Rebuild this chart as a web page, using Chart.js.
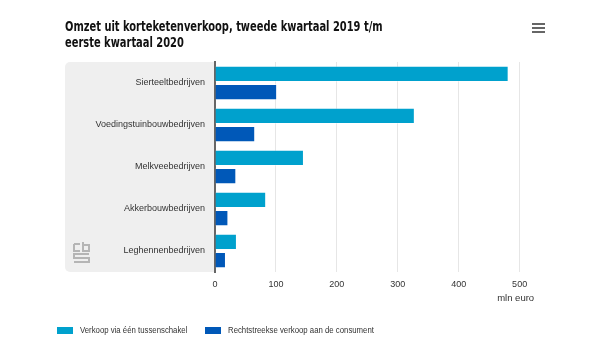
<!DOCTYPE html>
<html>
<head>
<meta charset="utf-8">
<script src="https://cdn.jsdelivr.net/npm/chart.js@4"></script>
<style>
  html, body { margin: 0; padding: 0; background: #ffffff; }
  #wrap { position: relative; width: 600px; height: 355px; overflow: hidden; }
  #chart { position: absolute; left: 0; top: 0; }
  #title { position: absolute; left: 65px; top: 18px; font-family: "DejaVu Sans Condensed", "DejaVu Sans", sans-serif; font-weight: bold; font-size: 13.5px; line-height: 16px; color: #111; white-space: nowrap; transform: scaleX(0.815); transform-origin: 0 0; }
  #menu { position: absolute; left: 532px; top: 23px; width: 13px; }
  #menu div { height: 2px; background: #666; margin-bottom: 2px; }
  .sw { position: absolute; width: 16px; height: 7px; top: 327px; }
  .lt { position: absolute; top: 324px; font-family: "Liberation Sans", sans-serif; font-size: 9.5px; line-height: 12px; color: #333; white-space: nowrap; transform: scaleX(0.82); transform-origin: 0 0; }
</style>
</head>
<body>
<div id="wrap">
  <canvas id="chart" width="600" height="355"></canvas>
  <div id="title">Omzet uit korteketenverkoop, tweede kwartaal 2019 t/m<br>eerste kwartaal 2020</div>
  <div id="menu"><div></div><div></div><div></div></div>
</div>
<script>
const categories = ["Sierteeltbedrijven", "Voedingstuinbouwbedrijven", "Melkveebedrijven", "Akkerbouwbedrijven", "Leghennenbedrijven"];
const seriesNames = ["Verkoop via één tussenschakel", "Rechtstreekse verkoop aan de consument"];
const viaTussenschakel = [482, 328, 146, 84, 36];
const rechtstreeks = [102, 66, 35, 22, 18];
const tickValues = [0, 100, 200, 300, 400, 500];
const axisTitle = "mln euro";
const colors = ["#00a1cd", "#0058b8"];

const wrap = document.getElementById('wrap');
const legendX = [57, 205];
seriesNames.forEach((n, i) => {
  const sw = document.createElement('div'); sw.className = 'sw';
  sw.style.background = colors[i]; sw.style.left = legendX[i] + 'px';
  const tx = document.createElement('div'); tx.className = 'lt';
  tx.textContent = n; tx.style.left = (legendX[i] + 23) + 'px';
  wrap.appendChild(sw); wrap.appendChild(tx);
});

const bgPlugin = {
  id: 'bgbox',
  beforeDraw(chart) {
    const ctx = chart.ctx, a = chart.chartArea;
    ctx.save();
    ctx.fillStyle = '#efefef';
    const x = 65, y = a.top, w = a.left - 65, h = a.bottom - a.top, r = 5;
    ctx.beginPath();
    ctx.moveTo(x + r, y); ctx.lineTo(x + w, y); ctx.lineTo(x + w, y + h);
    ctx.lineTo(x + r, y + h); ctx.arcTo(x, y + h, x, y + h - r, r);
    ctx.lineTo(x, y + r); ctx.arcTo(x, y, x + r, y, r); ctx.closePath();
    ctx.fill();
    // CBS logo (simplified)
    ctx.strokeStyle = '#b5b5b5'; ctx.lineWidth = 2;
    const lx = 74, ly = 242;
    ctx.beginPath();
    ctx.moveTo(lx, ly + 2); ctx.lineTo(lx, ly + 9); ctx.lineTo(lx + 6, ly + 9);
    ctx.moveTo(lx, ly + 2); ctx.lineTo(lx + 6, ly + 2);
    ctx.moveTo(lx + 9, ly); ctx.lineTo(lx + 9, ly + 9); ctx.lineTo(lx + 15, ly + 9); ctx.lineTo(lx + 15, ly + 3); ctx.lineTo(lx + 9, ly + 3);
    ctx.moveTo(lx + 15, ly + 12); ctx.lineTo(lx, ly + 12); ctx.lineTo(lx, ly + 16); ctx.lineTo(lx + 15, ly + 16); ctx.lineTo(lx + 15, ly + 20); ctx.lineTo(lx, ly + 20);
    ctx.stroke();
    ctx.restore();
  },
  afterDraw(chart) {
    const ctx = chart.ctx, xs = chart.scales.x;
    ctx.save();
    ctx.font = '9.5px "Liberation Sans", sans-serif';
    ctx.fillStyle = '#333';
    ctx.textAlign = 'center'; ctx.textBaseline = 'middle';
    ctx.fillText(axisTitle, xs.getPixelForValue(500) - 4, 298);
    ctx.restore();
  }
};

new Chart(document.getElementById('chart'), {
  type: 'bar',
  data: {
    labels: categories,
    datasets: [
      { label: seriesNames[0], data: viaTussenschakel, backgroundColor: colors[0], borderColor: 'rgba(255,255,255,0.35)', borderWidth: 1, barPercentage: 0.9, categoryPercentage: 0.86 },
      { label: seriesNames[1], data: rechtstreeks, backgroundColor: colors[1], borderColor: 'rgba(255,255,255,0.35)', borderWidth: 1, barPercentage: 0.9, categoryPercentage: 0.86 }
    ]
  },
  options: {
    indexAxis: 'y',
    responsive: false,
    animation: false,
    layout: { padding: { top: 62, left: 65, right: 56, bottom: 0 } },
    plugins: { legend: { display: false }, tooltip: { enabled: false }, title: { display: false } },
    scales: {
      x: {
        min: 0, max: 540,
        afterBuildTicks(scale) { scale.ticks = tickValues.map(v => ({ value: v })); },
        afterFit(scale) { scale.height = 83; },
        grid: { color: (c) => c.tick && c.tick.value === 0 ? 'rgba(0,0,0,0)' : '#e6e6e6', lineWidth: 1, drawTicks: false },
        border: { display: false },
        ticks: { color: '#333', font: { family: 'Liberation Sans', size: 9 }, padding: 7 }
      },
      y: {
        afterFit(scale) { scale.width = 150; },
        grid: { display: false, drawTicks: false },
        border: { display: true, color: '#666', width: 2 },
        ticks: { color: '#333', font: { family: 'Liberation Sans', size: 9 }, padding: 10 }
      }
    }
  },
  plugins: [bgPlugin]
});
</script>
</body>
</html>
